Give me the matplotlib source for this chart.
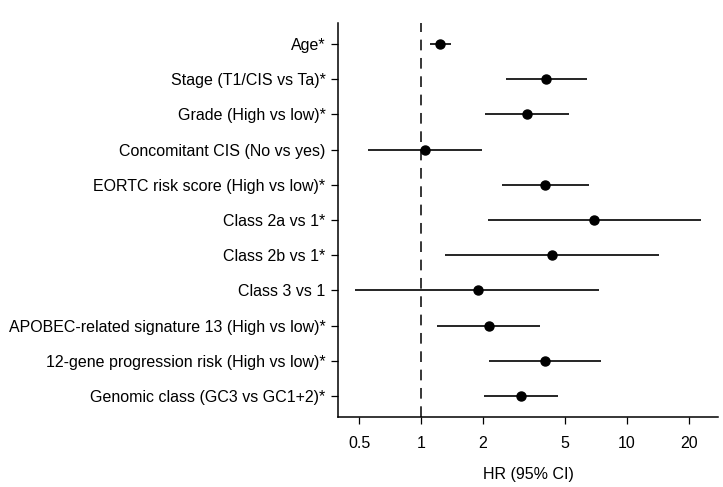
import numpy as np
import matplotlib
matplotlib.use("Agg")
import matplotlib.pyplot as plt

plt.rcParams['font.family'] = ['Liberation Sans', 'DejaVu Sans']

labels = ['Age*', 'Stage (T1/CIS vs Ta)*', 'Grade (High vs low)*',
          'Concomitant CIS (No vs yes)', 'EORTC risk score (High vs low)*',
          'Class 2a vs 1*', 'Class 2b vs 1*', 'Class 3 vs 1',
          'APOBEC-related signature 13 (High vs low)*',
          '12-gene progression risk (High vs low)*',
          'Genomic class (GC3 vs GC1+2)*']
hr = [1.24, 4.06, 3.26, 1.05, 4.01, 6.94, 4.31, 1.88, 2.13, 4.0, 3.06]
lo = [1.11, 2.59, 2.05, 0.55, 2.48, 2.12, 1.30, 0.48, 1.20, 2.14, 2.02]
hi = [1.39, 6.37, 5.23, 1.97, 6.52, 22.8, 14.35, 7.29, 3.77, 7.45, 4.62]
xticks = [0.5, 1, 2, 5, 10, 20]

fig = plt.figure(figsize=(7.23, 4.87), dpi=100)
ax = fig.add_axes([0.4675, 0.1437, 0.5255, 0.8091])

n = len(labels)
y = np.arange(n, 0, -1)
hr = np.array(hr); lo = np.array(lo); hi = np.array(hi)

ax.axvline(1, color='black', lw=1.1, linestyle=(0, (7, 5)), zorder=1)
ax.errorbar(hr, y, xerr=[hr - lo, hi - hr], fmt='o', color='black',
            ecolor='black', elinewidth=1.2, capsize=0, markersize=6.5, zorder=3)

ax.set_xscale('log')
ax.set_xlim(0.395, 27.6)
ax.set_ylim(0.4, n + 0.6)
ax.set_xticks(xticks)
ax.set_xticklabels([str(t) for t in xticks])
ax.minorticks_off()
ax.set_yticks(y)
ax.set_yticklabels(labels)
ax.tick_params(labelsize=11.5, length=5, width=0.9, color='black')
ax.tick_params(axis='y', pad=4)
ax.tick_params(axis='x', pad=9)
ax.set_xlabel('HR (95% CI)', fontsize=11.5, labelpad=11)

for s in ['top', 'right']:
    ax.spines[s].set_visible(False)
for s in ['left', 'bottom']:
    ax.spines[s].set_linewidth(1.1)

fig.savefig('out.png', dpi=100)
